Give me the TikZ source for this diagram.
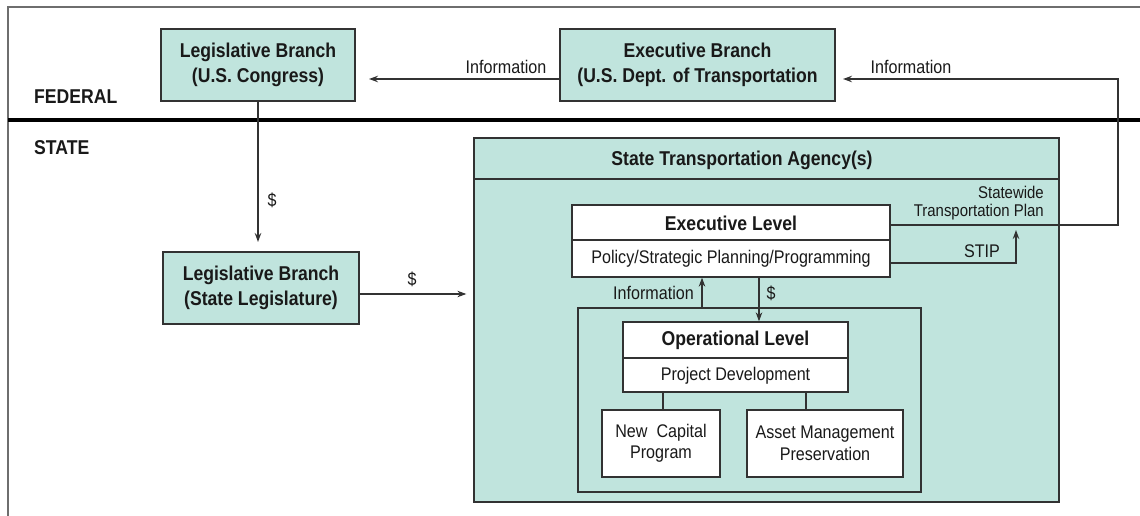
\documentclass[tikz,border=0pt]{standalone}
\usepackage{fontspec}
\setmainfont[FakeStretch=0.88]{Liberation Sans}
\usetikzlibrary{arrows.meta}
\definecolor{teal0}{RGB}{192,228,221}
\definecolor{edge}{RGB}{50,50,50}
\definecolor{ink}{RGB}{25,25,25}
\definecolor{frame}{RGB}{110,110,110}
\tikzset{
 box/.style={draw=edge, line width=1.3pt, fill=teal0, inner sep=0pt, align=center, text=ink, font=\bfseries\fontsize{20}{25}\selectfont},
 pane/.style={draw=edge, line width=1.3pt, fill=teal0, inner sep=0pt},
 wbox/.style={draw=edge, line width=1.3pt, fill=white, inner sep=0pt, align=center, text=ink, font=\fontsize{18.3}{21.5}\selectfont},
 lbl/.style={text=ink, inner sep=0pt, font=\fontsize{18.3}{21.5}\selectfont},
 hd/.style={text=ink, inner sep=0pt, font=\bfseries\fontsize{20}{24}\selectfont},
 conn/.style={draw=edge, line width=1.2pt},
 arr/.style={conn, -{Stealth[length=9pt,width=6.5pt]}},
}
\begin{document}
\begin{tikzpicture}[x=1pt,y=-1pt]
\useasboundingbox (0,0) rectangle (1140,516);
% frame and divider
\draw[frame, line width=1.5pt] (8,516) -- (8,7) -- (1140,7);
\draw[black, line width=4.5pt] (8,120) -- (1140,120);
\node[hd, anchor=west] (fed) at (34,97) {FEDERAL};
\node[hd, anchor=west] (st) at (34,148) {STATE};

% federal boxes
\node[box, minimum width=194pt, minimum height=72pt] (cong) at (258,65) {Legislative Branch\\(U.S. Congress)};
\node[box, minimum width=275pt, minimum height=72pt] (exec) at (697.5,65) {Executive Branch\\(U.S. Dept. of Transportation};
\node[box, minimum width=196pt, minimum height=72pt] (stleg) at (261,288) {Legislative Branch\\(State Legislature)};

% agency
\node[pane, minimum width=585pt, minimum height=364pt] (agency) at (766.5,320) {};
\draw[conn] (agency.west |- 0,179) -- (agency.east |- 0,179);
\node[hd] (agencyt) at (742,160) {State Transportation Agency(s)};

% executive level
\node[wbox, minimum width=318pt, minimum height=72pt] (execlvl) at (731,241) {};
\draw[conn] (execlvl.west |- 0,240) -- (execlvl.east |- 0,240);
\node[hd] (exect) at (731,223) {Executive Level};
\node[lbl] (policy) at (731,259) {Policy/Strategic Planning/Programming};

% inner operational frame
\node[pane, minimum width=343pt, minimum height=184pt] (inner) at (749.5,400) {};
\node[wbox, minimum width=225pt, minimum height=70pt] (oplvl) at (735.5,357) {};
\draw[conn] (oplvl.west |- 0,358) -- (oplvl.east |- 0,358);
\node[hd] (opt) at (735.5,340) {Operational Level};
\node[lbl] (projdev) at (735.5,376) {Project Development};
\node[wbox, minimum width=118pt, minimum height=67pt] (newcap) at (661,443.5) {New~ Capital\\Program};
\node[wbox, minimum width=156pt, minimum height=67pt] (asset) at (825,443.5) {Asset Management\\Preservation};
\draw[conn] (oplvl.south -| 663,0) -- (newcap.north -| 663,0);
\draw[conn] (oplvl.south -| 806,0) -- (asset.north -| 806,0);

% connectors
\coordinate (tipL) at (369,79);
\draw[arr] (exec.west |- 0,79) -- (tipL);
\node[lbl] (infoL) at (506,67) {Information};

\coordinate (r1) at (1118,225);
\coordinate (r2) at (1118,79);
\coordinate (tipR) at (843,79);
\draw[arr] (execlvl.east |- 0,225) -- (r1) -- (r2) -- (tipR);
\node[lbl] (infoR) at (911,67) {Information};
\node[lbl, font=\fontsize{17}{18.5}\selectfont, align=right, anchor=east] (swp) at (1044,203) {Statewide\\Transportation Plan};

\coordinate (s1) at (1016,263);
\coordinate (s2) at (1016,230);
\draw[arr] (execlvl.east |- 0,263) -- (s1) -- (s2);
\node[lbl] (stip) at (982,251) {STIP};

\draw[arr] (cong.south) -- (cong.south |- 0,242);
\node[lbl] (d1) at (272,200) {\$};
\draw[arr, shorten >=7pt] (stleg.east |- 0,294) -- (agency.west |- 0,294);
\node[lbl] (d2) at (412,279) {\$};

\draw[arr] (inner.north -| 702,0) -- (execlvl.south -| 702,0);
\node[lbl, anchor=east] (infoV) at (694,293) {Information};
\draw[arr] (execlvl.south -| 759,0) -- (oplvl.north -| 759,0);
\node[lbl] (d3) at (771,293) {\$};
\end{tikzpicture}
\end{document}
